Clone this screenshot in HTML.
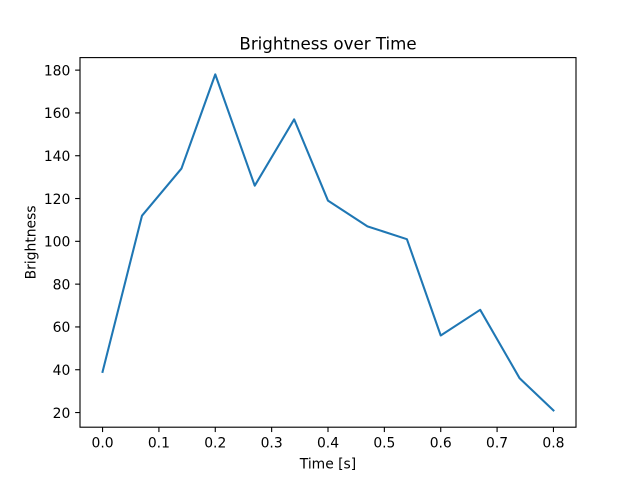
<!DOCTYPE html>
<html><head><meta charset="utf-8"><style>
html,body{margin:0;padding:0;background:#fff;}
svg{display:block;}
text{font-family:"DejaVu Sans","Liberation Sans",sans-serif;fill:#000;}
</style></head><body>
<svg width="640" height="480" viewBox="0 0 640 480" xmlns="http://www.w3.org/2000/svg">
<rect width="640" height="480" fill="#fff"/>
<polyline fill="none" stroke="#1f77b4" stroke-width="2.08" stroke-linejoin="round" stroke-linecap="square"
points="102.55,371.88 142.0,215.65 181.45,168.56 215.27,74.40 254.73,185.69 294.18,119.34 328.0,200.67 367.45,226.35 406.91,239.19 440.73,335.49 480.18,309.81 519.64,378.30 553.45,410.40"/>
<rect x="80" y="57.6" width="496" height="369.6" fill="none" stroke="#000" stroke-width="1.11"/>
<g stroke="#000" stroke-width="1.11">
<line x1="102.55" y1="427.2" x2="102.55" y2="432.06"/>
<line x1="158.91" y1="427.2" x2="158.91" y2="432.06"/>
<line x1="215.27" y1="427.2" x2="215.27" y2="432.06"/>
<line x1="271.64" y1="427.2" x2="271.64" y2="432.06"/>
<line x1="328.0" y1="427.2" x2="328.0" y2="432.06"/>
<line x1="384.36" y1="427.2" x2="384.36" y2="432.06"/>
<line x1="440.73" y1="427.2" x2="440.73" y2="432.06"/>
<line x1="497.09" y1="427.2" x2="497.09" y2="432.06"/>
<line x1="553.45" y1="427.2" x2="553.45" y2="432.06"/>
<line x1="75.14" y1="412.54" x2="80" y2="412.54"/>
<line x1="75.14" y1="369.74" x2="80" y2="369.74"/>
<line x1="75.14" y1="326.94" x2="80" y2="326.94"/>
<line x1="75.14" y1="284.14" x2="80" y2="284.14"/>
<line x1="75.14" y1="241.33" x2="80" y2="241.33"/>
<line x1="75.14" y1="198.53" x2="80" y2="198.53"/>
<line x1="75.14" y1="155.73" x2="80" y2="155.73"/>
<line x1="75.14" y1="112.93" x2="80" y2="112.93"/>
<line x1="75.14" y1="70.13" x2="80" y2="70.13"/>
</g>
<g font-size="13.89" text-anchor="middle">
<text x="102.55" y="447.5">0.0</text>
<text x="158.91" y="447.5">0.1</text>
<text x="215.27" y="447.5">0.2</text>
<text x="271.64" y="447.5">0.3</text>
<text x="328.0" y="447.5">0.4</text>
<text x="384.36" y="447.5">0.5</text>
<text x="440.73" y="447.5">0.6</text>
<text x="497.09" y="447.5">0.7</text>
<text x="553.45" y="447.5">0.8</text>
</g>
<g font-size="13.89" text-anchor="end">
<text x="70.3" y="417.8">20</text>
<text x="70.3" y="375.0">40</text>
<text x="70.3" y="332.2">60</text>
<text x="70.3" y="289.4">80</text>
<text x="70.3" y="246.6">100</text>
<text x="70.3" y="203.8">120</text>
<text x="70.3" y="161.0">140</text>
<text x="70.3" y="118.2">160</text>
<text x="70.3" y="75.4">180</text>
</g>
<text x="328" y="468.5" font-size="13.89" text-anchor="middle">Time [s]</text>
<text transform="translate(35.5,242.4) rotate(-90)" font-size="13.89" text-anchor="middle">Brightness</text>
<text x="328" y="49.3" font-size="16.67" text-anchor="middle">Brightness over Time</text>
</svg>
</body></html>
